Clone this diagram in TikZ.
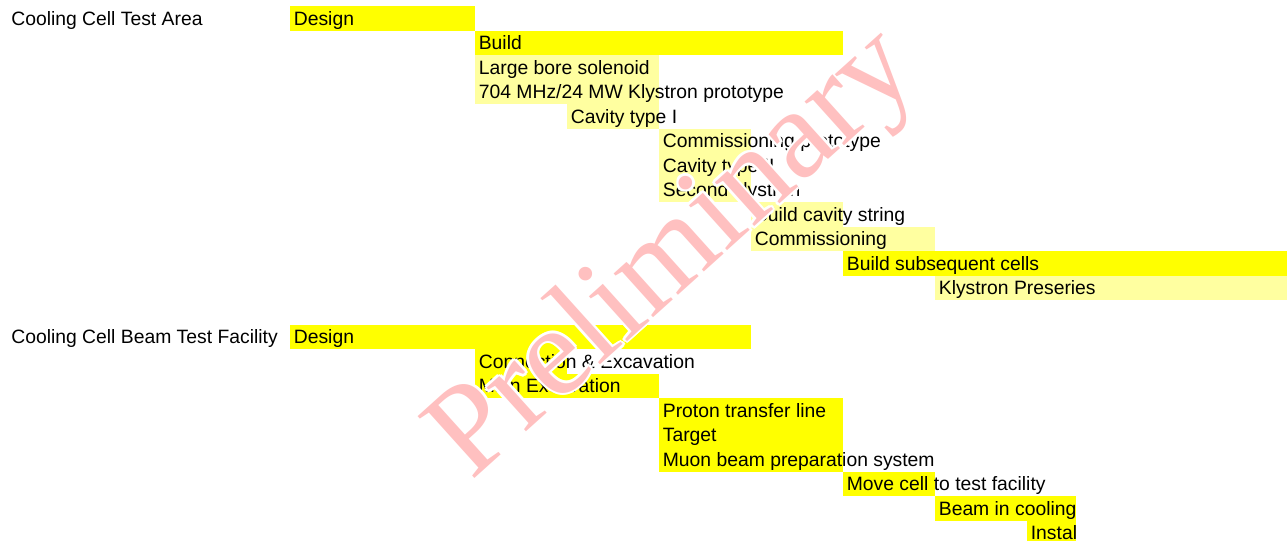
\documentclass[tikz,border=0pt]{standalone}
\usepackage{fontspec}
\setmainfont{Liberation Sans}
\newfontfamily\wmfont{Liberation Serif}
\usepackage{xcolor}
\usepackage{tikz}
\usetikzlibrary{calc}
\definecolor{barhi}{RGB}{255,255,0}
\definecolor{barlo}{RGB}{255,255,160}
\definecolor{wmpink}{RGB}{255,192,192}

\begin{document}
\begin{tikzpicture}[x=0.02cm, y=-0.02cm, font=\fontsize{11}{13}\selectfont,
  task/.style={anchor=base west, inner sep=0pt},
  hi/.style={fill=barhi}, lo/.style={fill=barlo},
  wm/.style={font=\wmfont\fontsize{73}{76}\selectfont, rotate=42, inner sep=0pt, text=wmpink}]
\useasboundingbox (0,0) rectangle (1287,541);
% test area
\fill[hi] (290,6) rectangle (475,30.5);
\fill[hi] (475,30.5) rectangle (843,55);
\fill[lo] (475,55) rectangle (659,104);
\fill[lo] (567,104) rectangle (659,128.5);
\fill[lo] (659,128.5) rectangle (751,202);
\fill[lo] (751,202) rectangle (843,226.5);
\fill[lo] (751,226.5) rectangle (935,251);
\fill[hi] (843,251) rectangle (1287,275.5);
\fill[lo] (935,275.5) rectangle (1287,300);
\node[task] (area) at (11,25.3) {Cooling Cell Test Area};
\node[task] (design) at (293.5,25.3) {Design};
\node[task] (build) at (478.5,49.8) {Build};
\node[task] (solenoid) at (478.5,74.3) {Large bore solenoid};
\node[task] (klystron) at (478.5,98.8) {704 MHz/24 MW Klystron prototype};
\node[task] (cavone) at (570.5,123.3) {Cavity type I};
\node[task] (commproto) at (662.5,147.8) {Commissioning prototype};
\node[task] (cavtwo) at (662.5,172.3) {Cavity type II};
\node[task] (klystwo) at (662.5,196.8) {Second klystron};
\node[task] (string) at (754.5,221.3) {Build cavity string};
\node[task] (comm) at (754.5,245.8) {Commissioning};
\node[task] (cells) at (846.5,270.3) {Build subsequent cells};
\node[task] (preseries) at (938.5,294.8) {Klystron Preseries};
% beam test facility
\fill[hi] (290,324.5) rectangle (751,349);
\fill[hi] (475,349) rectangle (567,373.5);
\fill[hi] (475,373.5) rectangle (659,398);
\fill[hi] (659,398) rectangle (843,471.5);
\fill[hi] (843,471.5) rectangle (935,496);
\fill[hi] (935,496) rectangle (1076,520.5);
\fill[hi] (1027,520.5) rectangle (1076,541);
\node[task] (facility) at (11,343.8) {Cooling Cell Beam Test Facility};
\node[task] (fdesign) at (293.5,343.8) {Design};
\node[task] (connect) at (478.5,368.3) {Connection \& Excavation};
\node[task] (excav) at (478.5,392.8) {Main Excavation};
\node[task] (transfer) at (662.5,417.3) {Proton transfer line};
\node[task] (target) at (662.5,441.8) {Target};
\node[task] (muon) at (662.5,466.3) {Muon beam preparation system};
\node[task] (move) at (846.5,490.8) {Move cell to test facility};
\begin{scope}
\clip (935,496) rectangle (1076,541);
\node[task] (beam) at (938.5,515.3) {Beam in cooling};
\node[task] (instal) at (1030.5,539.8) {Instal};
\end{scope}
% watermark
\coordinate (wmc) at (676,256);
\foreach \a in {0,45,...,315}
  \node[wm, text=white] (halo\a) at ($(wmc)+(\a:2.5)$) {Preliminary};
\node[wm] (prelim) at (wmc) {Preliminary};
\end{tikzpicture}
\end{document}
